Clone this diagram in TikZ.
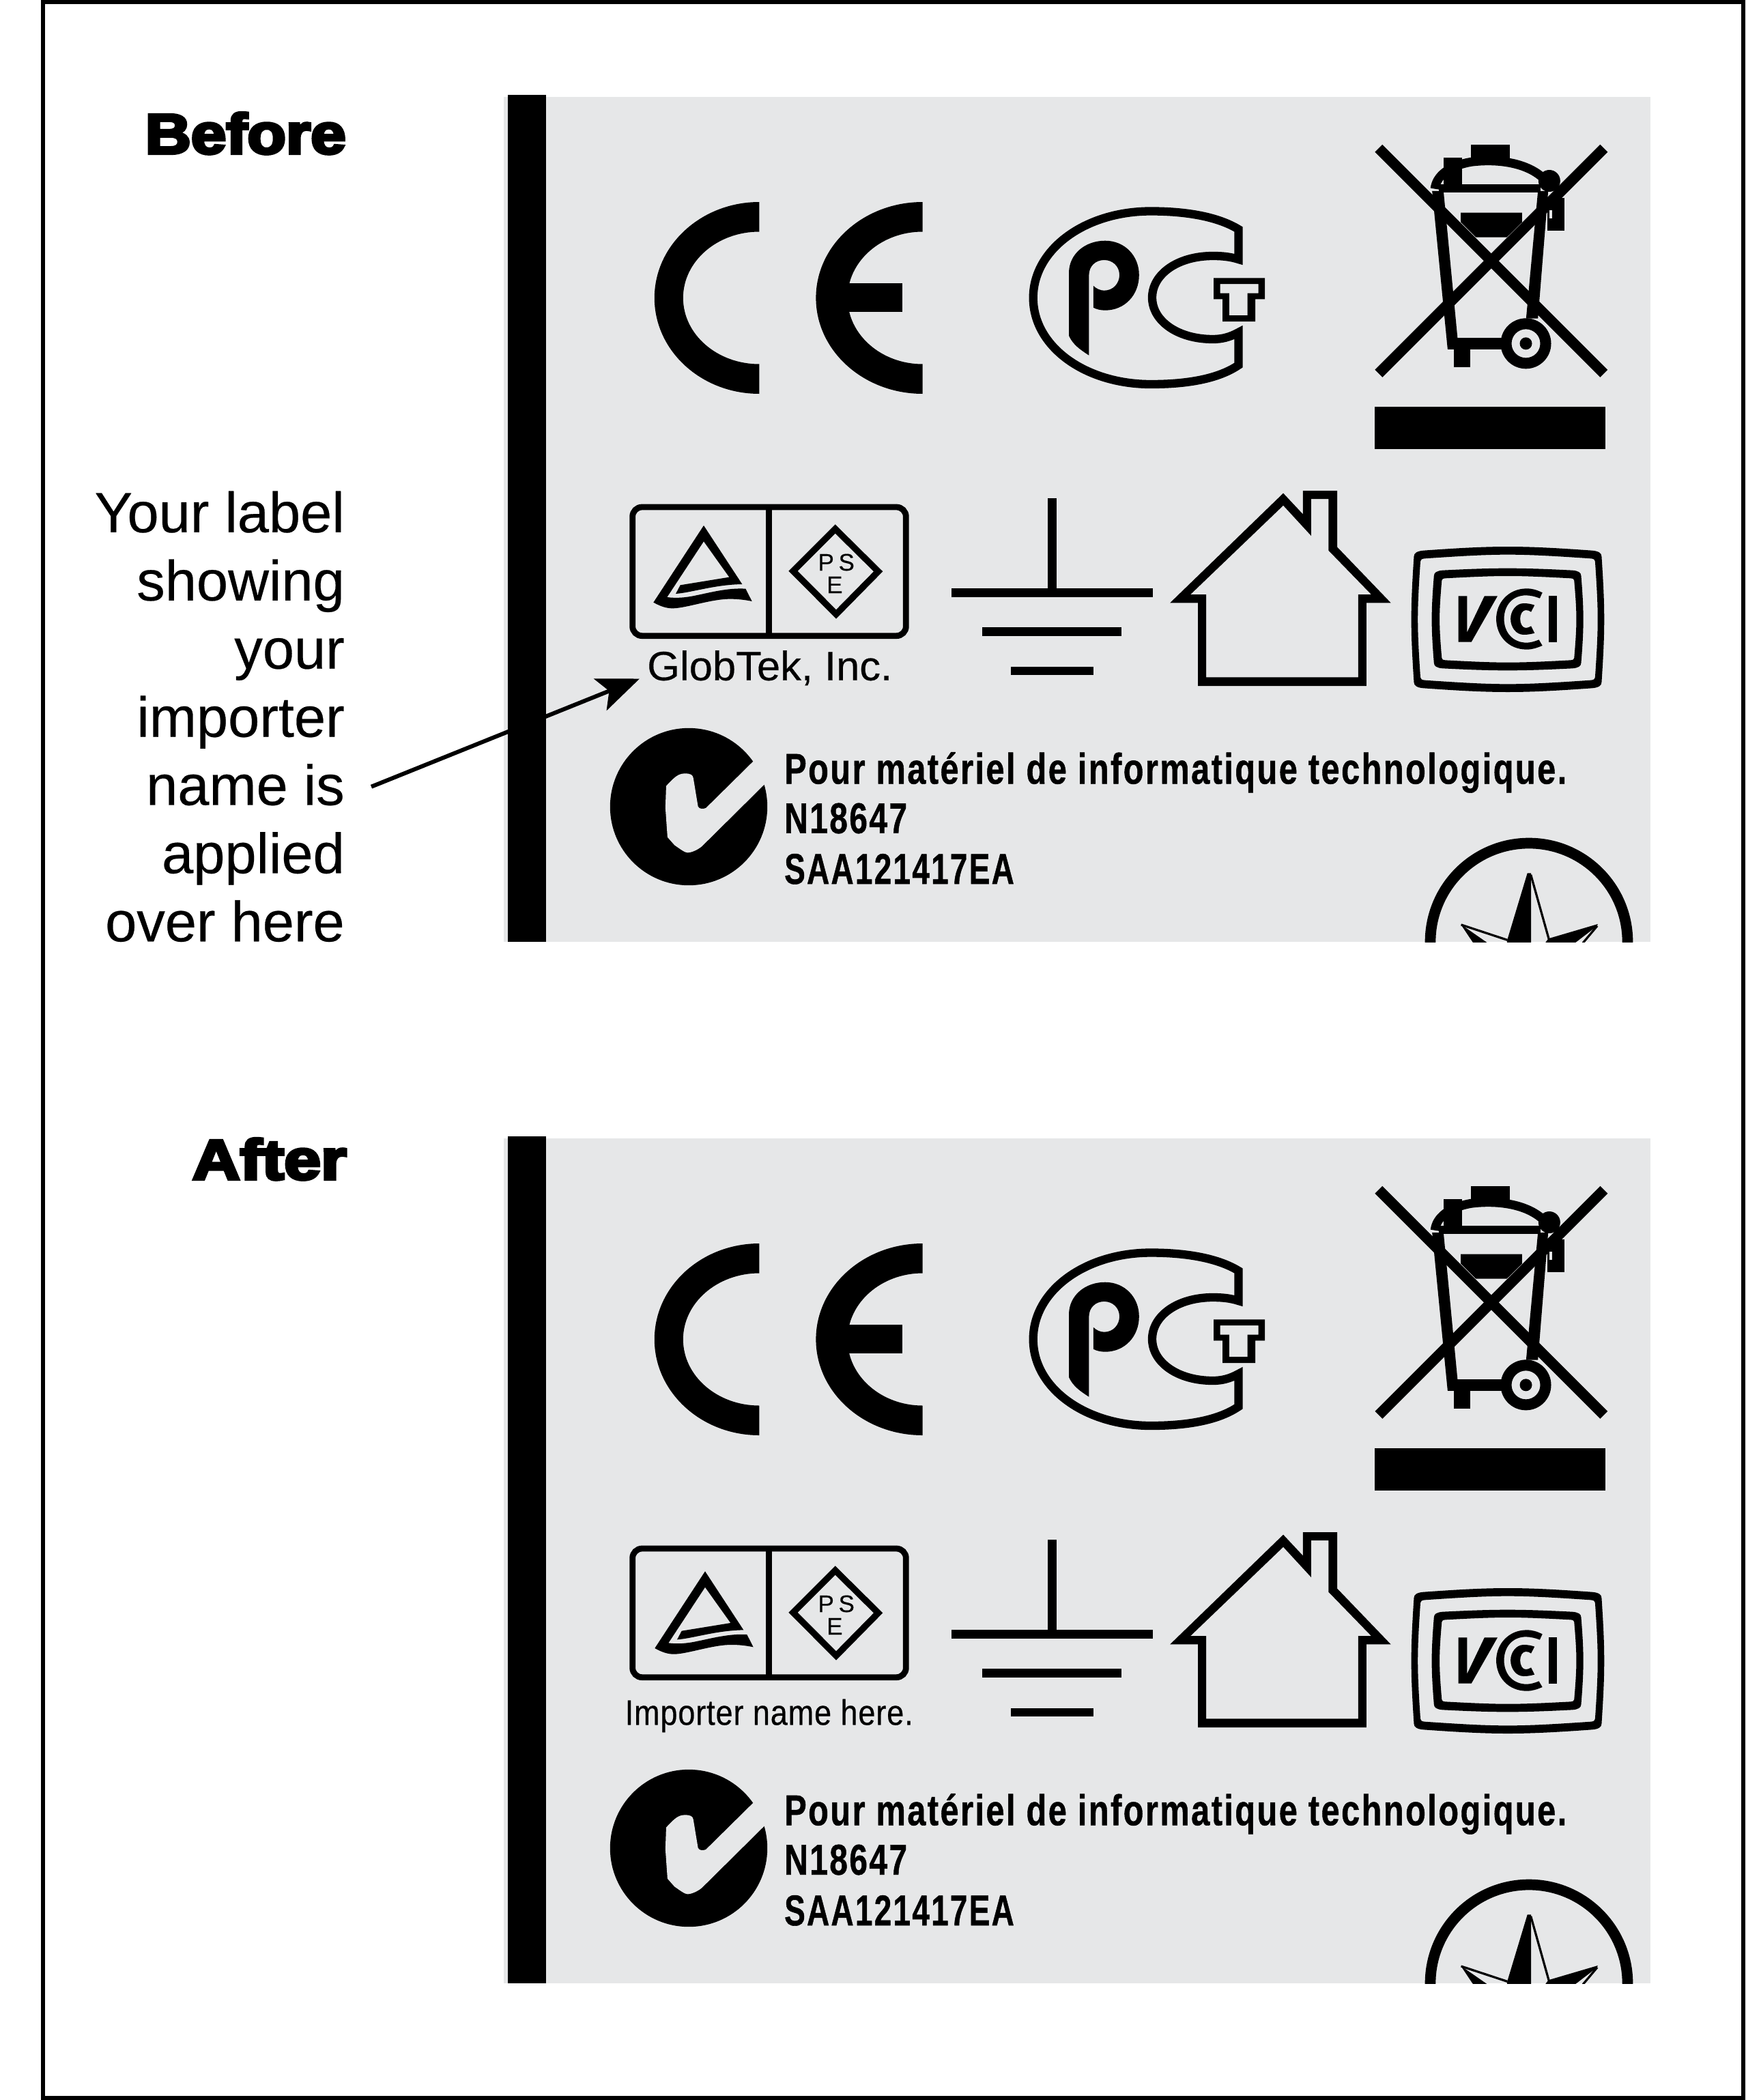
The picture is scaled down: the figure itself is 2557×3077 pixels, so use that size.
\documentclass[tikz,border=0pt]{standalone}
\usepackage{fontspec}
\usepackage{graphicx}
\setmainfont{Liberation Sans}
\newfontfamily\heavyf[BoldFeatures={FakeBold=5}]{Liberation Sans}
\newfontfamily\condf[BoldFeatures={FakeBold=0.9},LetterSpace=5]{Liberation Sans}
\newfontfamily\impf[FakeBold=0.5,LetterSpace=2]{Liberation Sans}
\newfontfamily\gtf[FakeBold=0.3]{Liberation Sans}
\usetikzlibrary{arrows.meta}
\definecolor{panelgray}{HTML}{E6E7E8}
\tikzset{
  zg/.style n args={4}{shift={(#1,#2)},x=#3pt,y=-#4pt},
  headtext/.style={inner sep=0pt,anchor=base east,font=\heavyf\bfseries\fontsize{83pt}{83pt}\selectfont},
  notetext/.style={inner sep=0pt,align=right,font=\gtf\fontsize{83pt}{99.9pt}\selectfont},
  psetext/.style={inner sep=0pt,anchor=base west,font=\gtf\fontsize{35pt}{35pt}\selectfont},
  condtext/.style={inner sep=0pt,anchor=base west,font=\condf\bfseries\fontsize{63pt}{63pt}\selectfont},
  gtext/.style={inner sep=0pt,anchor=base west,font=\gtf\fontsize{60pt}{60pt}\selectfont},
  imptext/.style={inner sep=0pt,anchor=base west,font=\impf\fontsize{52pt}{52pt}\selectfont},
}
% soft rounded frame with bulging sides: cx cy halfwidth halfheight topbulge sidebulge corner
\newcommand{\softframe}[7]{%
 ({#1-#3+#6+#7},{#2-#4+#5}) .. controls ({#1-#3/2},{#2-#4+#5/3}) and ({#1-#3/4},{#2-#4}) .. ({#1},{#2-#4})
 .. controls ({#1+#3/4},{#2-#4}) and ({#1+#3/2},{#2-#4+#5/3}) .. ({#1+#3-#6-#7},{#2-#4+#5})
 .. controls ({#1+#3-#6-#7/3},{#2-#4+#5+#7*.1}) and ({#1+#3-#6},{#2-#4+#5+#7*.5}) .. ({#1+#3-#6},{#2-#4+#5+#7*1.2})
 .. controls ({#1+#3-#6/3},{#2-#4/2}) and ({#1+#3},{#2-#4/4}) .. ({#1+#3},{#2})
 .. controls ({#1+#3},{#2+#4/4}) and ({#1+#3-#6/3},{#2+#4/2}) .. ({#1+#3-#6},{#2+#4-#5-#7*1.2})
 .. controls ({#1+#3-#6},{#2+#4-#5-#7*.5}) and ({#1+#3-#6-#7/3},{#2+#4-#5-#7*.1}) .. ({#1+#3-#6-#7},{#2+#4-#5})
 .. controls ({#1+#3/2},{#2+#4-#5/3}) and ({#1+#3/4},{#2+#4}) .. ({#1},{#2+#4})
 .. controls ({#1-#3/4},{#2+#4}) and ({#1-#3/2},{#2+#4-#5/3}) .. ({#1-#3+#6+#7},{#2+#4-#5})
 .. controls ({#1-#3+#6+#7/3},{#2+#4-#5-#7*.1}) and ({#1-#3+#6},{#2+#4-#5-#7*.5}) .. ({#1-#3+#6},{#2+#4-#5-#7*1.2})
 .. controls ({#1-#3+#6/3},{#2+#4/2}) and ({#1-#3},{#2+#4/4}) .. ({#1-#3},{#2})
 .. controls ({#1-#3},{#2-#4/4}) and ({#1-#3+#6/3},{#2-#4/2}) .. ({#1-#3+#6},{#2-#4+#5+#7*1.2})
 .. controls ({#1-#3+#6},{#2-#4+#5+#7*.5}) and ({#1-#3+#6+#7/3},{#2-#4+#5+#7*.1}) .. cycle}
% one copy of the label artwork; #1 = vertical offset, #2/#3 = small offset of triangle mark, #4 = suffix
\newcommand{\labelart}[4]{%
\begin{scope}[shift={(0,#1)}]
  \fill[panelgray] (738,142) rectangle (2417.5,1380);
  \fill[black] (744,139) rectangle (800,1380);
  % CE
  \begin{scope}
    \clip (900,280) rectangle (1112.4,600);
    \fill[even odd rule,black] (1112.4,436.5) ellipse[x radius=153.6,y radius=140.5]
       (1112.4,436.5) ellipse[x radius=111.6,y radius=97];
  \end{scope}
  \begin{scope}
    \clip (1180,280) rectangle (1351.7,600);
    \fill[even odd rule,black] (1351.7,436.5) ellipse[x radius=156.3,y radius=140.5]
       (1351.7,436.5) ellipse[x radius=110,y radius=97];
  \end{scope}
  \fill[black] (1235,415.3) rectangle (1322,457.3);
  % PCT
  \draw[line width=12.3pt,line join=miter] (1814.5,336) .. controls (1785,318) and (1740,309.5) .. (1686,309.5)
     .. controls (1590,309.5) and (1513.7,365) .. (1513.7,436.3)
     .. controls (1513.7,508) and (1590,563) .. (1686,563)
     .. controls (1740,563) and (1785,555) .. (1814.5,535) -- (1814.5,487)
     .. controls (1802,494) and (1790,497) .. (1777,497)
     .. controls (1725,497) and (1688,470) .. (1688,436)
     .. controls (1688,402) and (1725,375) .. (1777,375)
     .. controls (1790,375) and (1802,376) .. (1814.5,380) -- cycle;
  \fill[black] (1566,400) .. controls (1566,372) and (1590,352.7) .. (1619,352.7)
     .. controls (1648,352.7) and (1668.8,375) .. (1668.8,403)
     .. controls (1668.8,432) and (1648,454.7) .. (1619,454.7)
     .. controls (1612,454.7) and (1606,453) .. (1601.8,450.7) -- (1601.8,418.7)
     .. controls (1606,423) and (1612,425.7) .. (1617.7,425.7)
     .. controls (1631,425.7) and (1640,415) .. (1640,403)
     .. controls (1640,390) and (1630,381) .. (1617.7,381)
     .. controls (1605,381) and (1595.4,390) .. (1595.4,403) -- (1595.4,520.7)
     .. controls (1582,512) and (1572,505) .. (1566,492) -- cycle;
  \fill[even odd rule,black] (1778,407.3) -- (1853,407.3) -- (1853,438.3) -- (1839,438.3) -- (1839,471) -- (1791,471) -- (1791,438.3) -- (1778,438.3) -- cycle
     (1787.5,416) -- (1843.6,416) -- (1843.6,429.7) -- (1827.7,429.7) -- (1827.7,462) -- (1800.9,462) -- (1800.9,429.7) -- (1787.5,429.7) -- cycle;
  % recycling bin
  \begin{scope}[zg={1951.5}{180}{.33333}{.33333}]
    \draw[line width=15.5pt] (205,112) -- (1195,1102);
    \draw[line width=15.5pt] (1195,112) -- (205,1102);
    \fill[black] (187,1247) rectangle (1202,1433);
    \fill[black] (611,97) rectangle (780,160);
    \draw[line width=13pt] (452,290) .. controls (458,235) and (510,190) .. (610,172) .. controls (700,160) and (840,165) .. (925,240);
    \fill[black] (470,271) rectangle (915,307);
    \fill[black] (490,152) rectangle (570,272);
    \fill[black] (955,255) circle[radius=48];
    \fill[black] (440,300) -- (490,300) -- (552,950) -- (552,995) -- (508,995) -- cycle;
    \fill[black] (905,300) -- (950,300) -- (905,860) -- (853,860) -- cycle;
    \fill[black] (508,945) rectangle (760,995);
    \fill[black] (536,995) rectangle (607,1073);
    \fill[even odd rule,black] (852,970) circle[radius=111] (852,970) circle[radius=63];
    \fill[black] (852,970) circle[radius=27];
    \fill[black] (566,395) -- (835,395) -- (835,437) -- (768,503) -- (632,503) -- (566,437) -- cycle;
    \fill[black] (945,330) -- (1022,330) -- (1022,475) -- (945,475) -- cycle;
    \fill[panelgray] (955,385) rectangle (968,420);
  \end{scope}
  % importer box
  \begin{scope}[zg={880}{700}{.33333}{.33333}]
    \draw[line width=8.8pt,rounded corners=14pt] (140,129) rectangle (1342,695);
    \draw[line width=8.8pt] (740,129) -- (740,695);
    \begin{scope}[shift={(#2,#3)}]
    \fill[black] (453,210) -- (232,548) .. controls (262,565) and (290,575) .. (320,574)
      .. controls (380,572) and (490,532) .. (570,533) .. controls (610,533) and (640,538) .. (665,543)
      -- (637,488) .. controls (560,483) and (480,505) .. (420,517)
      .. controls (370,528) and (330,530) .. (292,525) -- (453,280) -- (565,437) -- (350,472) -- (330,510)
      .. controls (400,505) and (500,470) .. (622,468) -- cycle;
    \end{scope}
    \draw[line width=9.4pt] (1031,225) -- (1220,412) -- (1035,600) -- (846,410) -- cycle;
    \node[psetext] (p#4) at (955,408) {P};
    \node[psetext] (s#4) at (1045,408) {S};
    \node[psetext] (e#4) at (993,507) {E};
  \end{scope}
  % ground
  \begin{scope}[zg={1380.5}{700}{.638}{.33333}]
    \fill[black] (242,90) rectangle (262,490);
    \fill[black] (21,487) rectangle (483,524);
    \fill[black] (92,658) rectangle (412,696);
    \fill[black] (158,830) rectangle (347,868);
    % house
    \fill[even odd rule,black] (783,68) -- (828,160) -- (828,57) -- (907,57) -- (907,305) -- (1030,550) -- (974,550) -- (974,915) -- (587,915) -- (587,550) -- (523,550) -- cycle
      (783,122) -- (847,255) -- (847,93) -- (887,93) -- (887,320) -- (985,513) -- (955,513) -- (955,877) -- (606,877) -- (606,513) -- (570,513) -- cycle;
    % VCI
    \fill[even odd rule,black] \softframe{1298.5}{622.5}{221.5}{319.5}{17}{6}{22} \softframe{1298.5}{622.5}{206.5}{284.5}{17}{6}{10};
    \fill[even odd rule,black] \softframe{1298}{622.5}{174}{224.5}{9}{5}{20} \softframe{1299}{622}{157}{190}{10}{5}{8};
    \fill[black] (1185,520) -- (1205,520) -- (1205,680) -- (1245,520) -- (1275,520) -- (1215,722) -- (1185,722) -- cycle;
    \fill[black] (1378,505) .. controls (1365,493) and (1355,487) .. (1342,487) .. controls (1300,487) and (1272,550) .. (1272,620)
       .. controls (1272,695) and (1300,755) .. (1342,755) .. controls (1355,755) and (1365,748) .. (1378,738) -- (1370,712)
       .. controls (1360,720) and (1350,725) .. (1342,725) .. controls (1310,725) and (1290,680) .. (1290,620)
       .. controls (1290,560) and (1310,517) .. (1340,517) .. controls (1350,517) and (1362,522) .. (1372,530) -- cycle;
    \fill[black] (1360,560) .. controls (1352,555) and (1345,552) .. (1335,552) .. controls (1318,552) and (1305,585) .. (1305,620)
       .. controls (1305,658) and (1318,690) .. (1335,690) .. controls (1345,690) and (1352,687) .. (1360,683) -- (1352,652)
       .. controls (1348,657) and (1344,660) .. (1340,660) .. controls (1332,660) and (1327,642) .. (1327,620)
       .. controls (1327,600) and (1332,582) .. (1340,582) .. controls (1345,582) and (1349,585) .. (1352,590) -- cycle;
    \fill[black] (1392,520) rectangle (1411,722);
  \end{scope}
  % tick mark
  \fill[black] (1009,1182) ellipse[x radius=115.2,y radius=115.2];
  \begin{scope}[zg={860}{1040}{.3827}{.33333}]
    \fill[panelgray] (635,228) -- (455,432) .. controls (445,436) and (430,438) .. (425,425) -- (407,300)
      .. controls (405,285) and (395,280) .. (375,280) .. controls (350,280) and (335,295) .. (303,335)
      -- (300,430) -- (308,560) -- (335,595) .. controls (360,615) and (375,628) .. (385,628)
      .. controls (400,628) and (425,615) .. (440,600) -- (680,327) -- (720,280) -- (700,200) -- cycle;
  \end{scope}
  \node[condtext] (pour#4) at (1149,1148.3) {\resizebox{1146pt}{\height}{Pour matériel de informatique technologique.}};
  \node[condtext] (num#4) at (1149,1220.7) {\resizebox{180pt}{\height}{N18647}};
  \node[condtext] (saa#4) at (1149,1295) {\resizebox{336.7pt}{\height}{SAA121417EA}};
  % star mark
  \begin{scope}
    \clip (2050,1200) rectangle (2417.5,1380);
    \draw[line width=15.7pt] (2240,1380) circle[radius=144.5];
    \begin{scope}[zg={2041.7}{1200}{.33333}{.33333}]
      \fill[black] (588,238) -- (604,238) -- (604,545) -- (498,545) -- (500,530) -- cycle;
      \draw[line width=3.2pt] (603,245) -- (683,530) -- (672,545);
      \draw[line width=3.2pt] (297,465) -- (500,532);
      \fill[black] (295,463) -- (413,545) -- (350,545) -- cycle;
      \fill[black] (897,462) -- (683,525) -- (672,545) -- (797,545) -- (895,470) -- cycle;
      \draw[line width=3.2pt] (895,470) -- (832,545);
    \end{scope}
  \end{scope}
\end{scope}}
\begin{document}
\begin{tikzpicture}[x=1pt,y=-1pt]
  \useasboundingbox (0,0) rectangle (2557,3077);
  \fill[white] (0,0) rectangle (2557,3077);
  \draw[line width=6.2pt] (63,3.1) rectangle (2554,3074);
  \labelart{0}{0}{0}{a}
  \labelart{1526}{6}{19}{b}
  \node[headtext] (before) at (507,225) {\resizebox{294pt}{\height}{Before}};
  \node[headtext] (after) at (508,1728) {\resizebox{226pt}{\height}{After}};
  \node[notetext,anchor=north east] (note) at (505,719.5) {Your label\\showing\\your\\importer\\name is\\applied\\over here};
  \node[gtext] (globtek) at (948,996.7) {\resizebox{359pt}{\height}{GlobTek, Inc.}};
  \node[imptext] (importer) at (915.5,2527.3) {\resizebox{422pt}{\height}{Importer name here.}};
  \coordinate (arrowstart) at (544,1152.7);
  \coordinate (arrowtip) at (937,994.5);
  \draw[line width=6pt,-{Stealth[length=62pt,width=50pt,inset=14pt]}] (arrowstart) -- (arrowtip);
\end{tikzpicture}
\end{document}
